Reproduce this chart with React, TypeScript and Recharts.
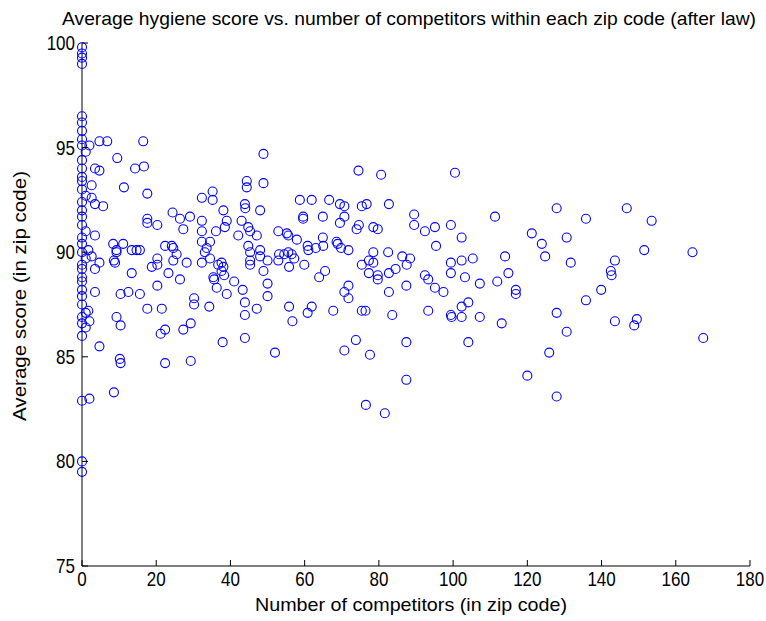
import { ScatterChart, Scatter, XAxis, YAxis } from 'recharts';

// one entry per zip code, same order in both arrays
const competitors = [
  0, 0, 0, 0, 0, 0, 0, 0, 0, 1,
  0, 0, 0, 0, 0, 1, 0, 0, 0, 0,
  1, 0, 0, 0, 1, 0, 0, 0, 0, 0,
  0, 0, 1, 0, 0, 1, 0, 0, 2, 0,
  0, 2.0, 4.7, 6.8, 16.5, 9.5, 3.5, 4.7, 14.3, 16.7,
  2.6, 11.3, 17.6, 2.6, 3.5, 5.7, 32.3, 35.2, 35.2, 38.1,
  44.4, 44.4, 43.9, 44.0, 24.4, 26.4, 29.1, 17.6, 17.6, 20.3,
  27.3, 32.3, 32.3, 36.1, 38.5, 39.0, 43.0, 42.1, 3.5, 48.9,
  48.9, 48.0, 74.5, 80.6, 58.7, 61.9, 66.6, 69.5, 70.7, 75.4,
  76.7, 82.7, 89.5, 89.5, 92.4, 59.6, 59.6, 64.9, 69.5, 70.7,
  74.0, 74.6, 78.5, 79.7, 44.8, 45.3, 47.1, 52.9, 55.2, 55.6,
  57.9, 64.9, 68.6, 100.5, 111.3, 127.9, 135.8, 95.1, 99.4, 102.3,
  121.2, 130.6, 123.9, 146.8, 153.5, 151.5, 164.5, 143.6, 142.5, 142.7,
  139.9, 143.6, 149.5, 148.8, 167.4, 95.4, 99.4, 102.3, 105.3, 99.4,
  114.0, 124.8, 131.7, 92.4, 93.3, 95.1, 97.4, 103.2, 107.2, 111.9,
  114.9, 116.9, 116.9, 135.8, 93.3, 99.4, 99.6, 102.3, 104.1, 102.3,
  107.2, 113.1, 127.9, 130.6, 104.1, 125.9, 120.0, 127.9, 44.8, 45.3,
  45.3, 45.3, 48.0, 48.0, 50.0, 48.9, 50.0, 50.0, 47.1, 52.0,
  53.1, 54.5, 55.6, 56.5, 57.2, 55.8, 52.9, 59.9, 60.8, 61.0,
  63.0, 65.0, 68.9, 69.8, 71.8, 63.9, 65.5, 70.7, 71.8, 71.8,
  55.8, 56.7, 60.8, 61.9, 67.7, 75.4, 76.4, 83.6, 70.7, 73.8,
  77.6, 87.4, 87.4, 76.5, 81.6, 75.4, 77.3, 78.5, 78.5, 77.3,
  79.7, 79.7, 82.5, 82.7, 84.5, 82.7, 86.3, 88.4, 87.5, 87.4,
  1.7, 2.6, 3.5, 4.7, 3.5, 4.7, 1.7, 2.0, 8.6, 8.4,
  9.3, 9.3, 11.1, 8.6, 8.9, 13.4, 14.7, 15.6, 13.4, 10.4,
  12.5, 15.6, 9.3, 10.4, 10.2, 10.4, 17.6, 20.3, 18.8, 20.3,
  20.3, 21.5, 21.2, 22.4, 22.4, 22.4, 24.2, 24.6, 23.3, 24.6,
  25.5, 26.4, 28.2, 27.3, 29.3, 29.3, 30.2, 30.2, 32.3, 32.3,
  34.5, 33.1, 33.6, 34.5, 34.3, 35.4, 35.6, 36.3, 36.7, 37.6,
  38.1, 37.6, 38.3, 39.0, 37.9, 41.0, 43.3, 43.9, 43.9, 43.9,
];

const avgScores = [
  99.8, 99.5, 99.3, 99.0, 96.5, 96.2, 95.8, 95.4, 95.1, 94.8,
  94.4, 94.0, 93.6, 93.4, 93.0, 92.7, 92.4, 92.0, 91.7, 91.3,
  91.0, 90.7, 90.4, 90.0, 89.7, 89.4, 89.2, 88.8, 88.6, 88.2,
  87.9, 87.5, 87.1, 86.9, 86.6, 86.4, 86.0, 82.9, 83.0, 80.0,
  79.5, 95.1, 95.3, 95.3, 95.3, 94.5, 94.0, 93.9, 94.0, 94.1,
  93.2, 93.1, 92.8, 92.6, 92.3, 92.2, 92.6, 92.9, 92.5, 92.0,
  93.4, 93.1, 92.3, 92.1, 91.9, 91.6, 91.7, 91.6, 91.4, 91.3,
  91.1, 91.5, 91.0, 91.0, 91.2, 91.5, 91.5, 90.8, 90.8, 94.7,
  93.3, 92.0, 93.9, 93.7, 92.5, 92.5, 92.5, 92.3, 92.2, 92.2,
  92.3, 92.3, 91.8, 91.3, 91.0, 91.7, 91.6, 91.7, 91.4, 91.7,
  91.1, 91.3, 91.2, 91.1, 91.2, 91.0, 90.8, 91.0, 90.9, 90.8,
  90.6, 90.7, 90.5, 93.8, 91.7, 92.1, 91.6, 91.2, 91.3, 90.7,
  90.9, 90.7, 90.4, 92.1, 91.5, 90.1, 90.0, 89.6, 89.1, 88.9,
  88.2, 86.7, 86.8, 86.5, 85.9, 90.3, 89.5, 89.6, 89.7, 89.0,
  89.8, 89.8, 89.5, 88.9, 88.7, 88.3, 88.1, 88.8, 88.5, 88.6,
  89.0, 88.2, 88.0, 87.7, 87.2, 87.0, 86.9, 87.4, 87.6, 86.9,
  86.9, 86.6, 87.1, 86.2, 85.7, 85.2, 84.1, 83.1, 90.3, 90.0,
  89.6, 89.4, 90.1, 89.8, 89.6, 89.1, 88.5, 87.9, 87.3, 85.2,
  89.9, 89.9, 90.0, 89.9, 89.7, 89.3, 89.6, 89.4, 90.3, 90.1,
  90.2, 90.3, 90.4, 90.2, 90.1, 88.8, 89.1, 88.1, 88.4, 87.8,
  87.4, 86.7, 87.1, 87.4, 87.2, 87.2, 87.2, 87.0, 85.3, 85.8,
  85.1, 85.7, 83.9, 82.7, 82.3, 89.4, 89.6, 90.0, 89.5, 89.0,
  88.9, 88.7, 90.0, 89.0, 89.2, 88.1, 89.8, 89.7, 89.4, 88.4,
  90.1, 89.8, 89.2, 89.5, 88.1, 85.5, 87.2, 86.7, 83.3, 90.4,
  90.1, 90.0, 90.4, 89.6, 89.5, 89.0, 90.1, 90.1, 90.1, 88.0,
  88.1, 88.0, 86.9, 86.5, 84.9, 84.7, 87.3, 88.4, 89.3, 89.4,
  89.7, 87.3, 86.1, 86.3, 84.7, 90.3, 90.3, 90.2, 89.0, 89.6,
  89.9, 88.7, 89.5, 86.3, 86.6, 84.8, 87.8, 87.5, 89.5, 90.5,
  90.5, 90.0, 90.2, 89.7, 87.4, 88.8, 88.7, 88.3, 89.4, 89.5,
  89.3, 89.1, 88.9, 88.0, 85.7, 88.6, 88.2, 87.6, 87.0, 85.9,
];

const xTicks = [0, 20, 40, 60, 80, 100, 120, 140, 160, 180];
const yTicks = [75, 80, 85, 90, 95, 100];

const title = 'Average hygiene score vs. number of competitors within each zip code (after law)';
const xLabel = 'Number of competitors (in zip code)';
const yLabel = 'Average score (in zip code)';

const data = competitors.map((x, i) => ({ x, y: avgScores[i] }));

const FONT = '"Liberation Sans", Arial, Helvetica, sans-serif';

// narrow, tall digits like the original: 17px glyphs stretched vertically
function XTick(props: any) {
  const { x, y, payload } = props;
  return (
    <g>
      <line x1={x} y1={y} x2={x} y2={y - 6} stroke="#000" strokeWidth={1} />
      <text
        transform={`translate(${x},${y + 20}) scale(1,1.2)`}
        textAnchor="middle"
        fontSize={17}
        fontFamily={FONT}
        fill="#000"
      >
        {payload.value}
      </text>
    </g>
  );
}

function YTick(props: any) {
  const { x, y, payload } = props;
  return (
    <g>
      <line x1={x} y1={y} x2={x + 6} y2={y} stroke="#000" strokeWidth={1} />
      <text
        transform={`translate(${x - 7},${y + 7}) scale(1,1.2)`}
        textAnchor="end"
        fontSize={17}
        fontFamily={FONT}
        fill="#000"
      >
        {payload.value}
      </text>
    </g>
  );
}

const Ring = (props: any) => (
  <circle cx={props.cx} cy={props.cy} r={4.5} fill="none" stroke="#0000ff" strokeWidth={1.1} />
);

export default function App() {
  return (
    <div style={{ position: 'relative', width: 766, height: 621, background: '#fff' }}>
      <style>{'html, body { margin: 0; padding: 0; overflow: hidden; }'}</style>
      <ScatterChart width={766} height={621} margin={{ top: 43, right: 16, left: 8, bottom: 0 }}>
        <XAxis
          type="number"
          dataKey="x"
          domain={[0, 180]}
          ticks={xTicks}
          interval={0}
          height={55}
          tickSize={0}
          tickMargin={0}
          tickLine={false}
          axisLine={{ stroke: '#000', strokeWidth: 1 }}
          tick={<XTick />}
        />
        <YAxis
          type="number"
          dataKey="y"
          domain={[75, 100]}
          ticks={yTicks}
          interval={0}
          width={74}
          tickSize={0}
          tickMargin={0}
          tickLine={false}
          axisLine={{ stroke: '#000', strokeWidth: 1 }}
          tick={<YTick />}
        />
        <Scatter data={data} shape={Ring} isAnimationActive={false} />
      </ScatterChart>
      <svg
        width={766}
        height={621}
        style={{ position: 'absolute', left: 0, top: 0, pointerEvents: 'none' }}
      >
        <text
          x={409}
          y={25}
          textAnchor="middle"
          fontSize={19}
          fontFamily={FONT}
          fill="#000"
          textLength={694}
          lengthAdjust="spacingAndGlyphs"
        >
          {title}
        </text>
        <text
          x={411}
          y={611}
          textAnchor="middle"
          fontSize={19}
          fontFamily={FONT}
          fill="#000"
          textLength={312}
          lengthAdjust="spacingAndGlyphs"
        >
          {xLabel}
        </text>
        <text
          x={26}
          y={296}
          transform="rotate(-90 26 296)"
          textAnchor="middle"
          fontSize={19}
          fontFamily={FONT}
          fill="#000"
          textLength={250}
          lengthAdjust="spacingAndGlyphs"
        >
          {yLabel}
        </text>
      </svg>
    </div>
  );
}
